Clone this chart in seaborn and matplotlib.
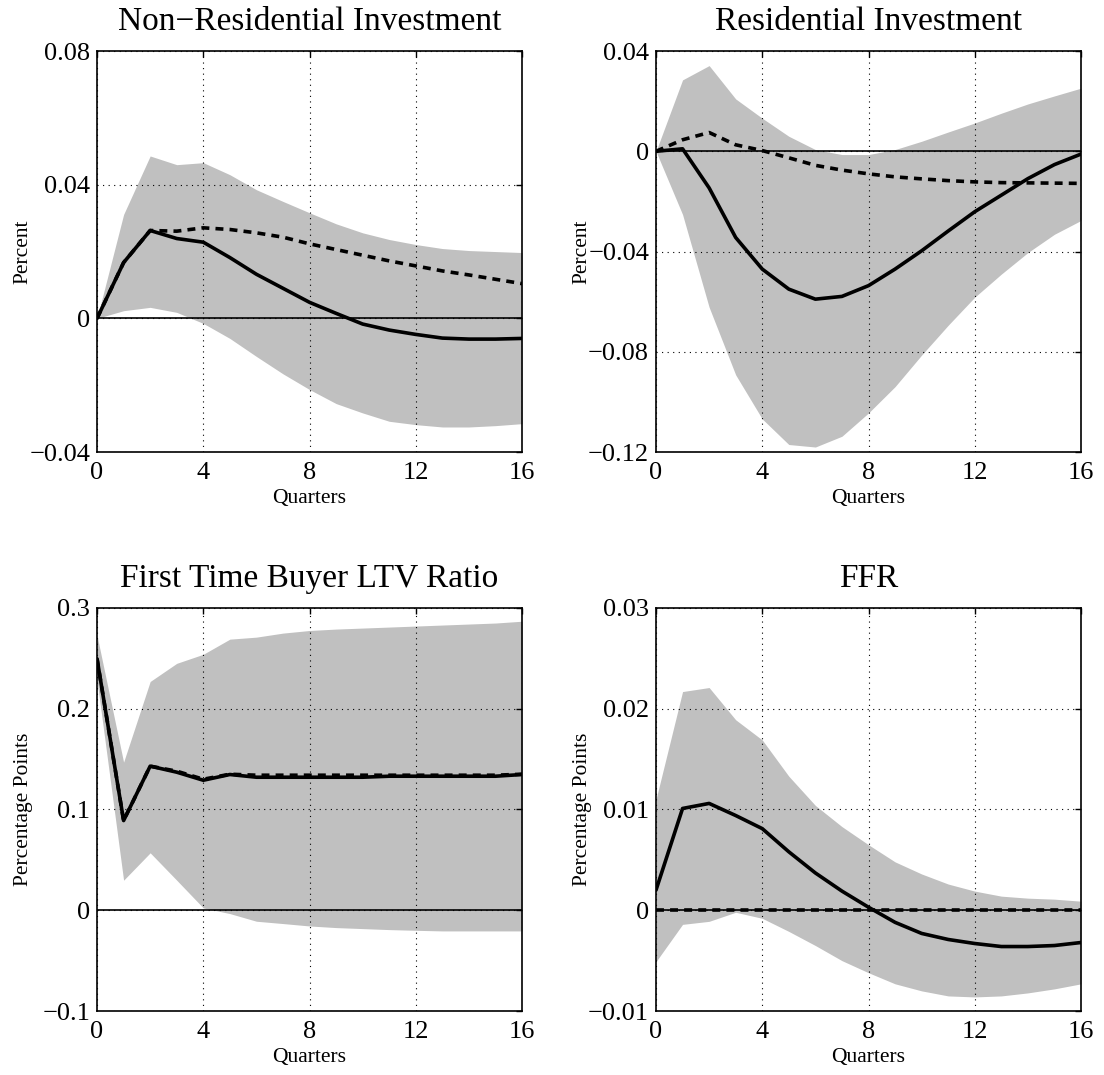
import matplotlib
matplotlib.use("Agg")
import matplotlib.pyplot as plt
import matplotlib.ticker as mticker
import numpy as np
import pandas as pd
import seaborn as sns

quarters = list(range(17))

# Non-Residential Investment
nri_solid = [0, 0.0167, 0.0263, 0.0239, 0.0228, 0.0182, 0.0132, 0.0090, 0.0048,
             0.0015, -0.0017, -0.0035, -0.0048, -0.0059, -0.0062, -0.0062, -0.0060]
nri_dash = [0, 0.0167, 0.0263, 0.0261, 0.0271, 0.0266, 0.0256, 0.0243, 0.0223,
            0.0206, 0.0189, 0.0172, 0.0157, 0.0142, 0.0130, 0.0117, 0.0104]
nri_hi = [0, 0.0311, 0.0486, 0.0460, 0.0466, 0.0430, 0.0385, 0.0350, 0.0316,
          0.0283, 0.0256, 0.0236, 0.0221, 0.0209, 0.0203, 0.0200, 0.0197]
nri_lo = [0, 0.0023, 0.0033, 0.0018, -0.0015, -0.0060, -0.0114, -0.0166, -0.0213,
          -0.0255, -0.0283, -0.0308, -0.0318, -0.0325, -0.0325, -0.0321, -0.0315]

# Residential Investment
ri_solid = [0, 0.0010, -0.0146, -0.0344, -0.0470, -0.0550, -0.0590, -0.0579, -0.0536,
            -0.0470, -0.0397, -0.0318, -0.0241, -0.0175, -0.0109, -0.0053, -0.0011]
ri_dash = [0, 0.0046, 0.0075, 0.0026, 0.0003, -0.0026, -0.0056, -0.0075, -0.0090,
           -0.0102, -0.0110, -0.0117, -0.0122, -0.0125, -0.0126, -0.0127, -0.0128]
ri_hi = [0, 0.0285, 0.0342, 0.0209, 0.0132, 0.0060, 0.0007, -0.0013, -0.0013,
         0.0007, 0.0040, 0.0077, 0.0113, 0.0152, 0.0189, 0.0221, 0.0252]
ri_lo = [0, -0.0252, -0.0622, -0.0892, -0.1068, -0.1170, -0.1180, -0.1137, -0.1044,
         -0.0939, -0.0813, -0.0694, -0.0582, -0.0490, -0.0404, -0.0331, -0.0276]

# First Time Buyer LTV Ratio
ltv_solid = [0.2495, 0.089, 0.143, 0.137, 0.129, 0.1347, 0.132, 0.132, 0.132,
             0.132, 0.132, 0.133, 0.133, 0.133, 0.133, 0.133, 0.1347]
ltv_dash = [0.2495, 0.089, 0.143, 0.138, 0.130, 0.135, 0.134, 0.134, 0.134,
            0.134, 0.134, 0.134, 0.134, 0.134, 0.134, 0.134, 0.135]
ltv_hi = [0.2726, 0.147, 0.227, 0.245, 0.254, 0.269, 0.271, 0.275, 0.2776,
          0.279, 0.280, 0.281, 0.282, 0.283, 0.284, 0.285, 0.2868]
ltv_lo = [0.228, 0.0298, 0.057, 0.0298, 0.0023, -0.0033, -0.0109, -0.0132, -0.0156,
          -0.0172, -0.0182, -0.0192, -0.0199, -0.0205, -0.0205, -0.0205, -0.0205]

# FFR
ffr_solid = [0.0020, 0.0101, 0.0106, 0.0094, 0.0081, 0.0058, 0.0037, 0.0019, 0.0003,
             -0.0012, -0.0023, -0.0029, -0.0033, -0.0036, -0.0036, -0.0035, -0.0032]
ffr_dash = [0.0] * 17
ffr_hi = [0.0110, 0.0217, 0.0221, 0.0189, 0.0169, 0.0133, 0.0104, 0.0083, 0.0065,
          0.0048, 0.0036, 0.0026, 0.0019, 0.0014, 0.0012, 0.0011, 0.0009]
ffr_lo = [-0.0051, -0.0014, -0.0011, -0.0002, -0.0008, -0.0021, -0.0035, -0.0050, -0.0062,
          -0.0073, -0.0080, -0.0085, -0.0086, -0.0085, -0.0082, -0.0078, -0.0073]

titles = ["Non\u2212Residential Investment", "Residential Investment",
          "First Time Buyer LTV Ratio", "FFR"]
ylabels = ["Percent", "Percent", "Percentage Points", "Percentage Points"]
yticks = [[-0.04, 0, 0.04, 0.08],
          [-0.12, -0.08, -0.04, 0, 0.04],
          [-0.1, 0, 0.1, 0.2, 0.3],
          [-0.01, 0, 0.01, 0.02, 0.03]]
xticks = [0, 4, 8, 12, 16]

panels = [
    (nri_solid, nri_dash, nri_lo, nri_hi),
    (ri_solid, ri_dash, ri_lo, ri_hi),
    (ltv_solid, ltv_dash, ltv_lo, ltv_hi),
    (ffr_solid, ffr_dash, ffr_lo, ffr_hi),
]

sns.set_style("white")
plt.rcParams["font.family"] = ["Liberation Serif", "DejaVu Serif"]
plt.rcParams["axes.unicode_minus"] = True
plt.rcParams["text.color"] = "black"
plt.rcParams["axes.labelcolor"] = "black"

fig = plt.figure(figsize=(11.04, 10.75), dpi=100)
positions = [
    [0.0879, 0.5795, 0.385, 0.373],
    [0.5942, 0.5795, 0.385, 0.373],
    [0.0879, 0.0595, 0.385, 0.375],
    [0.5942, 0.0595, 0.385, 0.375],
]


def fmt(v, pos):
    s = f"{v:g}"
    return s.replace("-", "\u2212")


for i, (solid, dash, lo, hi) in enumerate(panels):
    ax = fig.add_axes(positions[i])
    df = pd.DataFrame({"q": quarters, "solid": solid, "dash": dash, "lo": lo, "hi": hi})
    ax.fill_between(df["q"], df["lo"], df["hi"], color="#c0c0c0", linewidth=0, zorder=1)
    ax.axhline(0, color="black", linewidth=1.2, zorder=2)
    sns.lineplot(data=df, x="q", y="dash", ax=ax, color="black", linewidth=2.6,
                 zorder=3).lines[-1].set_dashes([2.2, 1.7])
    sns.lineplot(data=df, x="q", y="solid", ax=ax, color="black", linewidth=2.6, zorder=4)

    ax.set_xlim(0, 16)
    ax.set_ylim(yticks[i][0], yticks[i][-1])
    ax.set_xticks(xticks)
    ax.set_yticks(yticks[i])
    ax.yaxis.set_major_formatter(mticker.FuncFormatter(fmt))
    ax.grid(True, color="black", linestyle=(0, (1, 4)), linewidth=0.8)
    ax.set_axisbelow(False)
    for line in ax.get_xgridlines() + ax.get_ygridlines():
        line.set_zorder(2.5)
    ax.tick_params(direction="in", length=4, width=1, top=True, right=True,
                   labelsize=19, pad=5, colors="black")
    ax.tick_params(axis="x", pad=7)
    for sp in ax.spines.values():
        sp.set_color("black")
        sp.set_linewidth(1.2)
        sp.set_zorder(5)
    ax.set_title(titles[i], fontsize=24, pad=15, color="black")
    ax.set_xlabel("Quarters", fontsize=15.5)
    ax.set_ylabel(ylabels[i], fontsize=15.5)
    ax.xaxis.set_label_coords(0.5, -0.092)
    ax.yaxis.set_label_coords(-0.151, 0.5)

fig.savefig("out.png", dpi=100)
